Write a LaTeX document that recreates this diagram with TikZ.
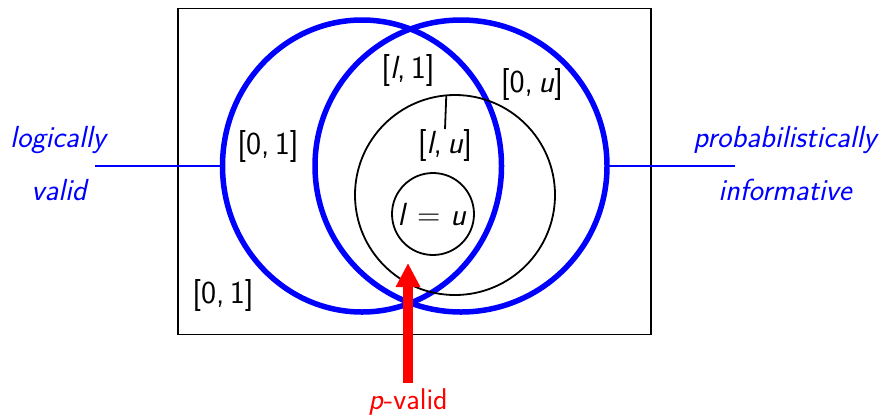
\documentclass[tikz,border=0pt]{standalone}
\usepackage{fontspec}
\usetikzlibrary{shapes.geometric,arrows.meta}
\begin{document}
\begin{tikzpicture}[x=1pt,y=-1pt,
  every node/.style={font=\sffamily\fontsize{30}{34}\selectfont, inner sep=0pt},
  bluering/.style={draw=blue, line width=5.5pt, inner sep=0pt, outer sep=0pt},
  blackring/.style={draw=black, line width=1.8pt, circle, inner sep=0pt, outer sep=0pt},
  bluelbl/.style={text=blue, font=\sffamily\itshape\fontsize{30.5}{34}\selectfont},
  interval/.style={font=\sffamily\fontsize{32}{36}\selectfont}]
\useasboundingbox (0,0) rectangle (882,416);
\node[draw, line width=1.8pt, minimum width=473pt, minimum height=326pt] (box) at (414.5,171.5) {};
\node[bluering, ellipse, minimum width=279pt, minimum height=292pt] (lv) at (362,166) {};
\node[bluering, circle, minimum size=292pt] (pi) at (461,166) {};
\node[blackring, minimum size=200pt] (mid) at (455,195) {};
\node[blackring, minimum size=82pt] (eq) at (433,214) {};
\coordinate (tick) at (445,129);
\draw[line width=1.8pt] (mid.95.7) -- (tick);
\node[interval] (l1) at (408,70) {[\textit{l},\,1]};
\node[interval] (0u) at (532,84) {[0,\,\textit{u}]};
\node[interval] (lu) at (445,145) {[\textit{l},\,\textit{u}]};
\node[interval] (leu) at (432,215) {\textit{l} = \textit{u}};
\node[interval] (01a) at (268,146) {[0,\,1]};
\node[interval] (01b) at (223,295) {[0,\,1]};
\node[bluelbl] (logic) at (58,140) {logically};
\node[bluelbl] (valid) at (59,190) {valid};
\node[bluelbl] (prob) at (785,140) {probabilistically};
\node[bluelbl] (info) at (785,190) {informative};
\coordinate (lend) at (95,166);
\coordinate (rend) at (735,166);
\draw[blue, line width=1.8pt] (lend) -- (lv.west);
\draw[blue, line width=1.8pt] (pi.east) -- (rend);
\node[text=red, font=\sffamily\fontsize{30}{34}\selectfont] (pv) at (408,402) {\textit{p}-valid};
\coordinate (arrtop) at (408,263);
\draw[red, line width=10pt, -{Triangle[length=24pt,width=23pt]}] (pv.north |- 0,383) -- (arrtop);
\end{tikzpicture}
\end{document}
